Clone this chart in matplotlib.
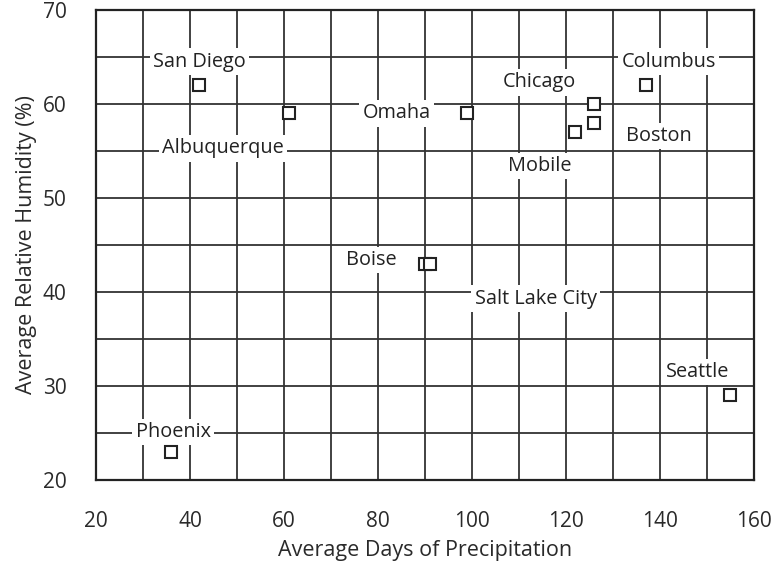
import matplotlib.pyplot as plt
from matplotlib.ticker import MultipleLocator

# city data: precipitation days vs relative humidity
cities = ["San Diego", "Albuquerque", "Omaha", "Chicago", "Boston", "Mobile",
          "Columbus", "Boise", "Salt Lake City", "Seattle", "Phoenix"]
precip_days = [42, 61, 99, 126, 126, 122, 137, 90, 91, 155, 36]
humidity = [62, 59, 59, 60, 58, 57, 62, 43, 43, 29, 23]

# where each city's name sits
label_x = [42, 47, 84, 114.3, 139.8, 114.5, 141.9, 78.5, 113.6, 148, 36.4]
label_y = [64.5, 55.3, 59, 62.3, 56.6, 53.4, 64.5, 43.4, 39.3, 31.5, 25.1]


def main():
    plt.rcParams['font.family'] = ['Open Sans', 'DejaVu Sans']
    fig = plt.figure(figsize=(7.76, 5.71), dpi=100)
    ax = fig.add_axes([0.1237, 0.1594, 0.8479, 0.8231])

    ax.plot(precip_days, humidity, linestyle='none', marker='s', markersize=8.5,
            markerfacecolor='white', markeredgecolor='#222222', markeredgewidth=1.5,
            zorder=4)

    for name, lx, ly in zip(cities, label_x, label_y):
        ax.text(lx, ly, name, ha='center', va='center', fontsize=14.3, color='#222222',
                bbox=dict(facecolor='white', edgecolor='none', pad=2.5), zorder=3)

    ax.set_xlim(20, 160)
    ax.set_ylim(20, 70)
    ax.xaxis.set_major_locator(MultipleLocator(20))
    ax.xaxis.set_minor_locator(MultipleLocator(10))
    ax.yaxis.set_major_locator(MultipleLocator(10))
    ax.yaxis.set_minor_locator(MultipleLocator(5))
    ax.grid(which='both', color='#333333', linewidth=1.3, zorder=1)
    ax.set_axisbelow(True)
    ax.tick_params(which='both', length=0, labelsize=15, colors='#2a2a2a')
    ax.tick_params(axis='x', pad=22)
    ax.tick_params(axis='y', pad=21)
    for s in ax.spines.values():
        s.set_linewidth(1.6)
        s.set_color('#222222')

    ax.set_xlabel("Average Days of Precipitation", fontsize=15.5, color='#2a2a2a', labelpad=6)
    ax.set_ylabel("Average Relative Humidity (%)", fontsize=15.5, color='#2a2a2a', labelpad=4)

    fig.savefig("out.png", dpi=100)


if __name__ == "__main__":
    main()
